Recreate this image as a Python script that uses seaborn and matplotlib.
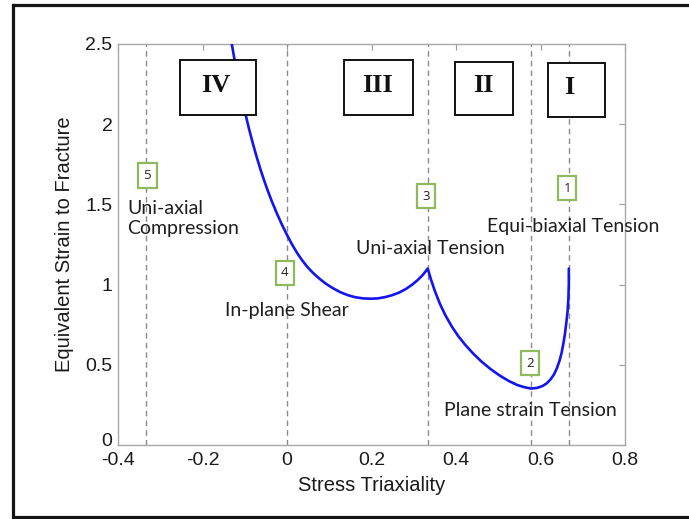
import numpy as np
import pandas as pd
import matplotlib
matplotlib.use("Agg")
import matplotlib.pyplot as plt
from matplotlib.patches import Rectangle
from matplotlib.lines import Line2D
from matplotlib.transforms import ScaledTranslation
import seaborn as sns

# Fracture locus: stress triaxiality vs equivalent strain to fracture
triaxiality = [-0.131, -0.123, -0.115, -0.107, -0.099, -0.090, -0.080, -0.071,
               -0.063, -0.055, -0.047, -0.036, -0.024, -0.012, 0.000, 0.012,
               0.024, 0.036, 0.047, 0.057, 0.066, 0.080, 0.094, 0.109, 0.126,
               0.144, 0.162, 0.180, 0.197, 0.215, 0.232, 0.249, 0.265, 0.281,
               0.296, 0.310, 0.322, 0.333,
               0.341, 0.350, 0.362, 0.375, 0.390, 0.405, 0.422, 0.440, 0.460,
               0.482, 0.504, 0.525, 0.545, 0.562, 0.578, 0.592, 0.605, 0.615,
               0.624, 0.632, 0.639, 0.645, 0.650, 0.654, 0.658, 0.661, 0.664,
               0.666, 0.667, 0.667]
strain = [2.505, 2.384, 2.271, 2.167, 2.071, 1.972, 1.872, 1.789,
          1.720, 1.656, 1.596, 1.520, 1.444, 1.374, 1.310, 1.250,
          1.197, 1.151, 1.114, 1.085, 1.062, 1.030, 1.002, 0.977, 0.953,
          0.934, 0.921, 0.914, 0.912, 0.914, 0.922, 0.934, 0.950, 0.972,
          0.999, 1.030, 1.062, 1.100,
          1.030, 0.960, 0.880, 0.808, 0.739, 0.680, 0.624, 0.572, 0.521,
          0.473, 0.432, 0.399, 0.374, 0.360, 0.352, 0.356, 0.368, 0.385,
          0.410, 0.440, 0.480, 0.525, 0.575, 0.630, 0.695, 0.760, 0.830,
          0.910, 1.000, 1.100]

# Characteristic loading states
state_triax = [2/3, 1/np.sqrt(3), 1/3, 0.0, -1/3]
state_ids = ["1", "2", "3", "4", "5"]
state_names = ["Equi-biaxial Tension", "Plane strain Tension", "Uni-axial Tension",
               "In-plane Shear", "Uni-axial\nCompression"]
regions = ["IV", "III", "II", "I"]

x_ticks = [-0.4, -0.2, 0.0, 0.2, 0.4, 0.6, 0.8]
x_tick_labels = ["-0.4", "-0.2", "0", "0.2", "0.4", "0.6", "0.8"]
y_ticks = [0.0, 0.5, 1.0, 1.5, 2.0, 2.5]
y_tick_labels = ["0", "0.5", "1", "1.5", "2", "2.5"]

df = pd.DataFrame({"triaxiality": triaxiality, "strain": strain})

sns.set_theme(style="white")
plt.rcParams["font.family"] = ["Liberation Sans", "DejaVu Sans"]

W, H = 689, 519
fig = plt.figure(figsize=(W / 100, H / 100), dpi=100)
ax = fig.add_axes([118 / W, (H - 445) / H, 507 / W, 401 / H])

# vertical reference lines for each loading state
for xv in state_triax:
    ax.axvline(xv, color="#8a8a8a", ls=(0, (4, 3)), lw=1.0, zorder=1)

sns.lineplot(data=df, x="triaxiality", y="strain", sort=False, estimator=None,
             color="#1414f0", lw=1.9, ax=ax, zorder=3)

ax.set_xlim(-0.4, 0.8)
ax.set_ylim(0, 2.5)
ax.set_xticks(x_ticks)
ax.set_xticklabels(x_tick_labels)
ax.set_yticks(y_ticks)
ax.set_yticklabels(y_tick_labels)
ax.tick_params(direction="in", length=4, width=0.8, color="#9a9a9a",
               top=True, right=True, labelsize=14, labelcolor="#1a1a1a")
ax.tick_params(axis="x", pad=5)
ax.tick_params(axis="y", pad=4)
for sp in ax.spines.values():
    sp.set_color("#a8a8a8")
    sp.set_linewidth(1.0)

# lift the y "0" label a little so it sits just above the x "-0.4" label
for lab in ax.get_yticklabels():
    if lab.get_text() == "0":
        lab.set_transform(lab.get_transform() +
                          ScaledTranslation(0, 4 / 72, fig.dpi_scale_trans))

ax.set_xlabel("Stress Triaxiality", fontsize=14.5, color="#1a1a1a", labelpad=5)
ax.set_ylabel("Equivalent Strain to Fracture", fontsize=14.5, color="#1a1a1a", labelpad=8)

# numbered state markers
green = "#8fba5c"
num_pos = [(0.663, 1.60), (0.575, 0.51), (0.329, 1.55), (-0.005, 1.075), (-0.331, 1.68)]
for (px, py), sid in zip(num_pos, state_ids):
    ax.text(px, py, sid, ha="center", va="center", fontsize=9.5, color="#222222",
            family=["Open Sans", "DejaVu Sans"], zorder=5,
            bbox=dict(boxstyle="square,pad=0.42", fc="white", ec=green, lw=1.6))

label_font = ["Lato", "DejaVu Sans"]
name_pos = [(0.677, 1.36, "center"), (0.575, 0.215, "center"), (0.339, 1.225, "center"),
            (0.0, 0.84, "center"), (-0.378, 1.41, "left")]
for (px, py, ha), name in zip(name_pos, state_names):
    ax.text(px, py, name, ha=ha, va="center", fontsize=14, color="#1e1e1e",
            family=label_font, linespacing=1.2, zorder=4)

# region boxes
box_geom = [(-0.254, 2.056, 0.181, 0.344, -0.168, 2.244),
            (0.135, 2.056, 0.163, 0.344, 0.215, 2.244),
            (0.398, 2.056, 0.137, 0.332, 0.464, 2.244),
            (0.618, 2.044, 0.135, 0.337, 0.667, 2.230)]
for (bx, by, bw, bh, tx, ty), name in zip(box_geom, regions):
    ax.add_patch(Rectangle((bx, by), bw, bh, fc="white", ec="#111111", lw=1.4, zorder=6))
    ax.text(tx, ty, name, ha="center", va="center", fontsize=19, fontweight="bold",
            family=["Liberation Serif", "DejaVu Serif"], color="#111111", zorder=7)

# outer frame (left, top, bottom)
fc = "#141414"
fig.add_artist(Line2D([13 / W, 13 / W], [0.003, 1 - 5 / H], transform=fig.transFigure,
                      color=fc, lw=2.3, solid_capstyle="projecting"))
fig.add_artist(Line2D([13 / W, 1.0], [1 - 5 / H, 1 - 5 / H], transform=fig.transFigure,
                      color=fc, lw=2.3))
fig.add_artist(Line2D([13 / W, 1.0], [0.003, 0.003], transform=fig.transFigure,
                      color=fc, lw=2.3))

fig.savefig("out.png", dpi=100, facecolor="white")
